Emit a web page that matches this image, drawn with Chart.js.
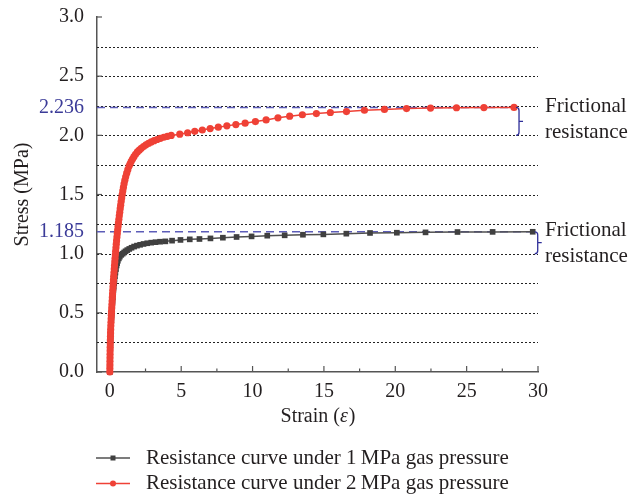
<!DOCTYPE html>
<html>
<head>
<meta charset="utf-8">
<script src="https://cdn.jsdelivr.net/npm/chart.js@4.4.0/dist/chart.umd.min.js"></script>
<style>
  body { margin: 0; background: #fff; }
  #wrap { width: 629px; height: 496px; }
</style>
</head>
<body>
<div id="wrap"><canvas id="stressChart"></canvas></div>
<script>
// 1 MPa gas pressure: strain / stress (MPa)
const strain1 = [0, 0.003, 0.007, 0.011, 0.015, 0.02, 0.025, 0.031, 0.037, 0.044, 0.052, 0.061, 0.071, 0.082,
  0.094, 0.107, 0.121, 0.136, 0.152, 0.169, 0.187, 0.206, 0.226, 0.248, 0.272, 0.298, 0.326, 0.357, 0.391,
  0.43, 0.475, 0.51, 0.56, 0.63, 0.7, 0.8, 0.9, 1.0, 1.1, 1.22, 1.36, 1.52, 1.7, 1.9, 2.12, 2.36, 2.62, 2.9,
  3.2, 3.52, 3.89, 4.36, 4.95, 5.6, 6.28, 7.05, 7.92, 8.88, 9.93, 11.03,
  12.25, 13.53, 14.96, 16.57, 18.23, 20.11, 22.12, 24.36, 26.82, 29.63];
const stress1 = [0, 0.03, 0.06, 0.09, 0.12, 0.15, 0.18, 0.21, 0.24, 0.27, 0.3, 0.33, 0.36, 0.39,
  0.42, 0.45, 0.48, 0.51, 0.54, 0.57, 0.6, 0.63, 0.66, 0.69, 0.72, 0.75, 0.78, 0.81, 0.84,
  0.87, 0.9, 0.92, 0.94, 0.96, 0.975, 0.99, 1.0, 1.01, 1.02, 1.03, 1.04, 1.05, 1.06, 1.068, 1.075, 1.082, 1.088, 1.093,
  1.097, 1.101, 1.104, 1.11, 1.116, 1.121, 1.124, 1.129, 1.135, 1.141, 1.146, 1.152,
  1.155, 1.16, 1.163, 1.169, 1.175, 1.177, 1.18, 1.183, 1.184, 1.185];

// 2 MPa gas pressure: strain / stress (MPa)
const strain2 = [0, 0.002, 0.005, 0.008, 0.011, 0.015, 0.019, 0.024, 0.029, 0.035, 0.042, 0.05, 0.059, 0.069,
  0.08, 0.092, 0.105, 0.118, 0.132, 0.146, 0.16, 0.175, 0.19, 0.206, 0.222, 0.238, 0.255, 0.272, 0.29, 0.308,
  0.327, 0.346, 0.366, 0.386, 0.407, 0.428, 0.45, 0.473, 0.497, 0.522, 0.548, 0.575, 0.603, 0.632, 0.662,
  0.693, 0.725, 0.758, 0.792, 0.828, 0.866, 0.906, 0.95, 0.998, 1.05, 1.11, 1.18, 1.26, 1.35, 1.42, 1.5,
  1.59, 1.69, 1.8, 1.93, 2.06, 2.2, 2.36, 2.53, 2.71, 2.9, 3.1, 3.31, 3.54, 3.78, 4.03, 4.3,
  4.9, 5.45, 5.95, 6.48, 7.03, 7.6, 8.2, 8.83, 9.48, 10.2, 10.95, 11.78, 12.6, 13.49, 14.47, 15.45,
  16.58, 17.84, 19.24, 20.79, 22.47, 24.29, 26.21, 28.32];
const stress2 = [0, 0.03, 0.06, 0.09, 0.12, 0.15, 0.18, 0.21, 0.24, 0.27, 0.3, 0.33, 0.36, 0.39,
  0.42, 0.45, 0.48, 0.51, 0.54, 0.57, 0.6, 0.63, 0.66, 0.69, 0.72, 0.75, 0.78, 0.81, 0.84, 0.87,
  0.9, 0.93, 0.96, 0.99, 1.02, 1.05, 1.08, 1.11, 1.14, 1.17, 1.2, 1.23, 1.26, 1.29, 1.32,
  1.35, 1.38, 1.41, 1.44, 1.47, 1.5, 1.53, 1.56, 1.59, 1.62, 1.65, 1.68, 1.71, 1.74, 1.76, 1.78,
  1.8, 1.82, 1.84, 1.86, 1.875, 1.89, 1.905, 1.92, 1.932, 1.944, 1.955, 1.965, 1.975, 1.984, 1.992, 1.999,
  2.01, 2.022, 2.034, 2.045, 2.057, 2.069, 2.08, 2.091, 2.103, 2.116, 2.13, 2.148, 2.162, 2.174, 2.184, 2.193,
  2.201, 2.212, 2.219, 2.226, 2.23, 2.233, 2.235, 2.236];

const seriesNames = ['Resistance curve under 1\u2009MPa gas pressure', 'Resistance curve under 2\u2009MPa gas pressure'];
const xTicks = [0, 5, 10, 15, 20, 25, 30];
const xMinorTicks = [2.5, 7.5, 12.5, 17.5, 22.5, 27.5];
const yTicks = [0, 0.5, 1.0, 1.5, 2.0, 2.5, 3.0];
const gridLevels = [0.25, 0.5, 0.75, 1.0, 1.25, 1.5, 1.75, 2.0, 2.25, 2.5, 2.75];
const peakLevels = [1.185, 2.236];      // final stress of each curve
const baseLevels = [1.0, 2.0];          // lower end of each brace
const noteLines = ['Frictional', 'resistance'];

const serif = '"Liberation Serif", "Times New Roman", serif';
const textColor = '#231f20';
const axisColor = '#555';
const blue = '#3b3b98';
const lineColors = ['#505050', '#ef4136'];
const markColors = ['#404040', '#ef4136'];

function toPoints(xs, ys) {
  return xs.map((v, i) => ({ x: v, y: ys[i] }));
}

function drawBrace(ctx, bx, top, bottom) {
  const mid = (top + bottom) / 2, r = 3;
  ctx.beginPath();
  ctx.moveTo(bx - r, top);
  ctx.quadraticCurveTo(bx, top, bx, top + r);
  ctx.lineTo(bx, bottom - r);
  ctx.quadraticCurveTo(bx, bottom, bx - r, bottom);
  ctx.moveTo(bx, mid);
  ctx.lineTo(bx + 4, mid);
  ctx.stroke();
}

const lastStrain = [strain1[strain1.length - 1], strain2[strain2.length - 1]];

const decor = {
  id: 'decor',
  beforeDatasetsDraw(chart) {
    const { ctx, chartArea: a, scales: { x, y } } = chart;
    ctx.save();
    // dotted horizontal grid
    ctx.strokeStyle = '#222';
    ctx.lineWidth = 1;
    ctx.setLineDash([2, 2]);
    gridLevels.forEach(v => {
      const py = Math.round(y.getPixelForValue(v)) + 0.5;
      ctx.beginPath();
      ctx.moveTo(a.left, py);
      ctx.lineTo(a.right, py);
      ctx.stroke();
    });
    // dashed guides at the final stress levels
    ctx.strokeStyle = '#5c5cb8';
    ctx.lineWidth = 1.5;
    ctx.setLineDash([8, 5]);
    peakLevels.forEach((v, i) => {
      const py = y.getPixelForValue(v);
      const bx = x.getPixelForValue(lastStrain[i]) + 5;
      ctx.beginPath();
      ctx.moveTo(a.left, py);
      ctx.lineTo(bx - 3, py);
      ctx.stroke();
    });
    ctx.setLineDash([]);
    // inward tick marks
    ctx.strokeStyle = axisColor;
    ctx.lineWidth = 1.2;
    xTicks.forEach(v => {
      const px = x.getPixelForValue(v);
      ctx.beginPath(); ctx.moveTo(px, a.bottom); ctx.lineTo(px, a.bottom - 6); ctx.stroke();
    });
    xMinorTicks.forEach(v => {
      const px = x.getPixelForValue(v);
      ctx.beginPath(); ctx.moveTo(px, a.bottom); ctx.lineTo(px, a.bottom - 3.5); ctx.stroke();
    });
    yTicks.forEach(v => {
      const py = y.getPixelForValue(v);
      ctx.beginPath(); ctx.moveTo(a.left, py); ctx.lineTo(a.left + 5, py); ctx.stroke();
    });
    ctx.restore();
  },
  afterDatasetsDraw(chart) {
    const { ctx, chartArea: a, scales: { x, y } } = chart;
    ctx.save();
    // braces and notes
    ctx.strokeStyle = '#2e2e99';
    ctx.lineWidth = 1.3;
    ctx.font = '21px ' + serif;
    ctx.fillStyle = textColor;
    ctx.textBaseline = 'middle';
    ctx.textAlign = 'left';
    peakLevels.forEach((v, i) => {
      const top = y.getPixelForValue(v);
      const bottom = y.getPixelForValue(baseLevels[i]);
      const bx = x.getPixelForValue(lastStrain[i]) + 5;
      drawBrace(ctx, bx, top, bottom);
      ctx.fillText(noteLines[0], a.right + 7, top - 1);
      ctx.fillText(noteLines[1], a.right + 7, top + 25);
    });

    // x axis title with italic epsilon
    const cx = (a.left + a.right) / 2, ty = a.bottom + 45;
    const partA = 'Strain (', partB = '\u03b5', partC = ')';
    ctx.font = '20px ' + serif;
    const wA = ctx.measureText(partA).width, wC = ctx.measureText(partC).width;
    ctx.font = 'italic 20px ' + serif;
    const wB = ctx.measureText(partB).width;
    const tx = cx - (wA + wB + wC) / 2;
    ctx.font = '20px ' + serif;
    ctx.fillText(partA, tx, ty);
    ctx.font = 'italic 20px ' + serif;
    ctx.fillText(partB, tx + wA, ty);
    ctx.font = '20px ' + serif;
    ctx.fillText(partC, tx + wA + wB + 1, ty);

    // legend
    seriesNames.forEach((name, i) => {
      const ly = a.bottom + 86 + i * 25.5;
      const lx = a.left - 1;
      ctx.strokeStyle = lineColors[i];
      ctx.lineWidth = 1.5;
      ctx.beginPath(); ctx.moveTo(lx, ly); ctx.lineTo(lx + 34, ly); ctx.stroke();
      ctx.fillStyle = markColors[i];
      if (i === 0) {
        ctx.fillRect(lx + 14.5, ly - 2.5, 5, 5);
      } else {
        ctx.beginPath(); ctx.arc(lx + 17, ly, 3, 0, Math.PI * 2); ctx.fill();
      }
      ctx.fillStyle = textColor;
      ctx.font = '21px ' + serif;
      ctx.fillText(name, lx + 50, ly);
    });
    ctx.restore();
  }
};

new Chart(document.getElementById('stressChart'), {
  type: 'line',
  data: {
    datasets: [
      {
        label: seriesNames[0],
        data: toPoints(strain1, stress1),
        borderColor: lineColors[0],
        borderWidth: 1.5,
        pointStyle: 'rect',
        pointRadius: 4,
        pointBackgroundColor: markColors[0],
        pointBorderColor: markColors[0],
        pointBorderWidth: 0,
        order: 1,
        clip: false
      },
      {
        label: seriesNames[1],
        data: toPoints(strain2, stress2),
        borderColor: lineColors[1],
        borderWidth: 1.5,
        pointStyle: 'circle',
        pointRadius: 3.6,
        pointBackgroundColor: markColors[1],
        pointBorderColor: markColors[1],
        pointBorderWidth: 0,
        order: 0,
        clip: false
      }
    ]
  },
  options: {
    responsive: true,
    maintainAspectRatio: false,
    animation: false,
    layout: { padding: { top: 17, right: 91, left: 0, bottom: 0 } },
    plugins: {
      legend: { display: false },
      tooltip: { enabled: false }
    },
    scales: {
      x: {
        type: 'linear',
        min: -0.9,
        max: 30,
        afterFit: s => { s.height = 124; s.paddingLeft = 0; s.paddingRight = 0; },
        afterBuildTicks: s => { s.ticks = xTicks.map(v => ({ value: v })); },
        ticks: {
          autoSkip: false,
          maxRotation: 0,
          padding: 8,
          color: textColor,
          font: { family: serif, size: 20 }
        },
        grid: { drawOnChartArea: false, drawTicks: false },
        border: { color: axisColor, width: 1.5 }
      },
      y: {
        min: 0,
        max: 3,
        afterFit: s => { s.width = 97; s.paddingTop = 0; s.paddingBottom = 0; },
        afterBuildTicks: s => {
          s.ticks = yTicks.concat(peakLevels).sort((p, q) => p - q).map(v => ({ value: v }));
        },
        ticks: {
          autoSkip: false,
          padding: 13,
          color: c => peakLevels.includes(c.tick.value) ? blue : textColor,
          font: { family: serif, size: 20 },
          callback: v => peakLevels.includes(v) ? v.toFixed(3) : v.toFixed(1)
        },
        grid: { drawOnChartArea: false, drawTicks: false },
        border: { color: axisColor, width: 1.5 },
        title: {
          display: true,
          text: 'Stress (MPa)',
          color: textColor,
          font: { family: serif, size: 20 },
          padding: { top: 11, bottom: 0 }
        }
      }
    }
  },
  plugins: [decor]
});
</script>
</body>
</html>
